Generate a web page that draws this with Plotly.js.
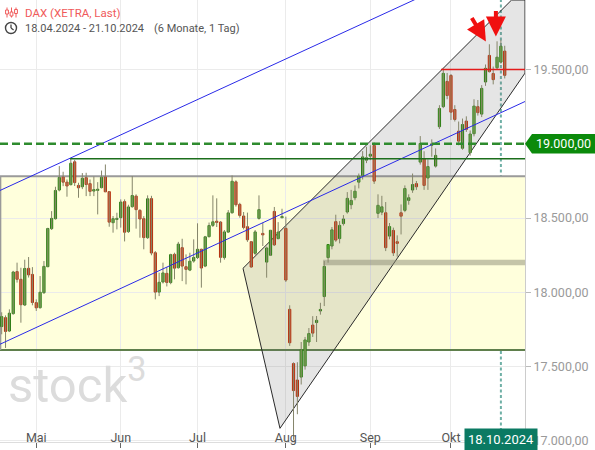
<!DOCTYPE html>
<html><head><meta charset="utf-8">
<script src="https://cdn.plot.ly/plotly-3.0.1.min.js"></script>
<style>html,body{margin:0;padding:0;background:#fff;}#chart{width:595px;height:450px;}</style>
</head><body><div id="chart"></div>
<script>
// ---------------- DATA ----------------
const dates = [
'2024-04-18','2024-04-19','2024-04-22','2024-04-23','2024-04-24','2024-04-25','2024-04-26','2024-04-29','2024-04-30',
'2024-05-02','2024-05-03','2024-05-06','2024-05-07','2024-05-08','2024-05-09','2024-05-10','2024-05-13','2024-05-14','2024-05-15','2024-05-16','2024-05-17','2024-05-20','2024-05-21','2024-05-22','2024-05-23','2024-05-24','2024-05-27','2024-05-28','2024-05-29','2024-05-30','2024-05-31',
'2024-06-03','2024-06-04','2024-06-05','2024-06-06','2024-06-07','2024-06-10','2024-06-11','2024-06-12','2024-06-13','2024-06-14','2024-06-17','2024-06-18','2024-06-19','2024-06-20','2024-06-21','2024-06-24','2024-06-25','2024-06-26','2024-06-27','2024-06-28',
'2024-07-01','2024-07-02','2024-07-03','2024-07-04','2024-07-05','2024-07-08','2024-07-09','2024-07-10','2024-07-11','2024-07-12','2024-07-15','2024-07-16','2024-07-17','2024-07-18','2024-07-19','2024-07-22','2024-07-23','2024-07-24','2024-07-25','2024-07-26','2024-07-29','2024-07-30','2024-07-31',
'2024-08-01','2024-08-02','2024-08-05','2024-08-06','2024-08-07','2024-08-08','2024-08-09','2024-08-12','2024-08-13','2024-08-14','2024-08-15','2024-08-16','2024-08-19','2024-08-20','2024-08-21','2024-08-22','2024-08-23','2024-08-26','2024-08-27','2024-08-28','2024-08-29','2024-08-30',
'2024-09-02','2024-09-03','2024-09-04','2024-09-05','2024-09-06','2024-09-09','2024-09-10','2024-09-11','2024-09-12','2024-09-13','2024-09-16','2024-09-17','2024-09-18','2024-09-19','2024-09-20','2024-09-23','2024-09-24','2024-09-25','2024-09-26','2024-09-27','2024-09-30',
'2024-10-01','2024-10-02','2024-10-03','2024-10-04','2024-10-07','2024-10-08','2024-10-09','2024-10-10','2024-10-11','2024-10-14','2024-10-15','2024-10-16','2024-10-17','2024-10-18','2024-10-21'
];
const open = [
17770,17830,17740,17857,18140,18088,17915,18162,18121,
17931,17897,17998,18173,18429,18496,18689,18776,18742,18725,18879,18720,18711,18772,18732,18682,18688,18705,18776,18678,18469,18491,
18503,18611,18409,18577,18648,18552,18496,18368,18631,18267,18002,18070,18128,18066,18256,18166,18301,18173,18150,18211,
18234,18290,18177,18375,18451,18478,18473,18234,18406,18536,18744,18592,18514,18442,18341,18263,18498,18397,18204,18250,18545,18362,18503,
18431,17886,17521,17410,17430,17505,17666,17780,17797,17875,17972,18234,18312,18476,18362,18463,18541,18590,18637,18742,18787,18890,
18917,18989,18532,18540,18536,18379,18417,18341,18536,18552,18619,18689,18732,18877,18900,18770,18990,18850,19115,19250,19420,
19460,19231,19085,18970,19153,18940,19068,19250,19200,19416,19595,19473,19512,19550,19624
];
const high = [
17866,17845,17886,18145,18200,18166,18220,18238,18170,
17953,18110,18211,18435,18547,18711,18850,18812,18760,18900,18892,18738,18803,18805,18760,18780,18742,18820,18861,18682,18514,18536,
18626,18626,18590,18783,18660,18560,18513,18653,18650,18278,18133,18200,18170,18260,18267,18340,18361,18256,18267,18357,
18465,18294,18380,18470,18653,18633,18480,18420,18554,18787,18754,18603,18541,18537,18345,18420,18653,18469,18308,18420,18575,18473,18563,
18510,17913,17529,17530,17666,17700,17760,17840,17841,17930,18211,18290,18440,18523,18480,18520,18675,18690,18720,18800,18951,18980,
18990,19010,18660,18650,18608,18467,18436,18384,18592,18720,18660,18800,18750,19052,18950,18895,19030,18969,19260,19512,19477,
19470,19260,19150,19170,19185,19090,19300,19295,19395,19534,19670,19520,19690,19700,19660
];
const low = [
17718,17626,17733,17850,18066,17796,17908,18100,17913,
17875,17891,17990,18170,18420,18490,18680,18715,18644,18720,18716,18637,18695,18648,18648,18648,18525,18700,18675,18442,18402,18424,
18436,18343,18400,18570,18429,18368,18290,18360,18250,17953,17975,18060,18040,18055,18088,18160,18076,18054,18143,18200,
18225,18032,18170,18370,18440,18440,18200,18220,18402,18530,18577,18503,18424,18340,18166,18250,18490,18312,18099,18245,18312,18357,18500,
18070,17640,17008,17180,17380,17480,17640,17700,17666,17850,17908,18200,18290,18340,18330,18450,18530,18560,18620,18700,18760,18870,
18890,18730,18500,18520,18278,18357,18245,18240,18390,18540,18590,18670,18690,18860,18690,18690,18913,18840,19100,19240,19300,
19160,19150,18990,18960,19080,18920,19050,19190,19180,19390,19480,19400,19500,19540,19440
];
const close = [
17837,17737,17860,18137,18088,17917,18161,18118,17932,
17896,18001,18175,18430,18498,18686,18773,18742,18716,18869,18739,18704,18768,18726,18680,18692,18693,18774,18677,18473,18496,18498,
18608,18405,18575,18652,18557,18494,18369,18630,18265,18002,18068,18131,18067,18254,18163,18325,18177,18155,18210,18235,
18290,18164,18374,18450,18475,18472,18236,18407,18535,18748,18590,18518,18437,18354,18171,18407,18557,18387,18299,18418,18320,18406,18510,
18083,17661,17339,17300,17615,17680,17723,17726,17812,17885,18175,18322,18421,18352,18451,18494,18633,18619,18681,18782,18912,18906,
18930,18749,18586,18576,18301,18443,18266,18330,18513,18699,18637,18726,18711,19002,18720,18847,19000,18922,19238,19474,19325,
19213,19164,19018,19130,19097,19066,19254,19210,19373,19508,19486,19432,19583,19657,19461
];
const monthKeys = ['2024-05','2024-06','2024-07','2024-08','2024-09','2024-10'];
const monthLabels = ['Mai','Jun','Jul','Aug','Sep','Okt'];
const yTickValues = [17000,17500,18000,18500,19500];
const markerDate = '2024-10-18';
const markerLabel = '18.10.2024';
const levelLabelValue = 19000;
const levelLabelText = '19.000,00';
const titleText = 'DAX (XETRA, Last)';
const rangeText = '18.04.2024 - 21.10.2024';
const periodText = '(6 Monate, 1 Tag)';

// analyst drawings in (trading-day index, price)
const blueUpper = [[-0.44,18686],[107.6,19971]];
const blueLower = [[-0.44,17651],[136.3,19285]];
const chanUpper = [[62.84,18162],[132.9,19971]];
const chanLower = [[72.47,17085],[136.28,19476]];
const zoneBox = [17613,18781];
const level19000 = 19000;
const resistLine = [17.8,18900];
const redLine = [114.4,19500];
const grayBar = [83.7,18202];
const arrowTips = [[126.1,19689,-15,-25],[128.7,19722,0,-27]];

// ---------------- CHART ----------------
const n = close.length;
const X_RANGE = [-0.443,136.28];
const Y_RANGE = [16993,19968];
const idx = dates.map((d,i)=>i);
const tickvals = monthKeys.map(k=>dates.findIndex(d=>d.startsWith(k)));

const wx=[], wy=[];
for(let i=0;i<n;i++){ wx.push(i,i,null); wy.push(low[i],high[i],null); }
const MINH = 8;
const base=[], hgt=[], fill=[], edge=[];
for(let i=0;i<n;i++){
  const lo=Math.min(open[i],close[i]), hi=Math.max(open[i],close[i]);
  if(hi-lo<MINH){ const m=(hi+lo)/2; base.push(m-MINH/2); hgt.push(MINH); }
  else { base.push(lo); hgt.push(hi-lo); }
  const up = close[i]>=open[i];
  fill.push(up?'#5cb82e':'#ea5427');
  edge.push(up?'#2f7d17':'#b2300f');
}

const traces = [
  {type:'scatter',mode:'lines',x:wx,y:wy,line:{color:'#85856a',width:1},hoverinfo:'skip'},
  {type:'bar',x:idx,y:hgt,base:base,width:0.58,marker:{color:fill,line:{color:edge,width:1}},hoverinfo:'skip'}
];

const PW=525, PH=442;
const px=v=>v/PW, py=v=>1-v/PH;

function lineAt(seg,x){ const [a,b]=seg; return a[1]+(b[1]-a[1])*(x-a[0])/(b[0]-a[0]); }
function xAtY(seg,y){ const [a,b]=seg; return a[0]+(b[0]-a[0])*(y-a[1])/(b[1]-a[1]); }

const xR=X_RANGE[1], yT=Y_RANGE[1];
const polyPts = [chanUpper[0],[xAtY(chanUpper,yT),yT],[xR,yT],[xR,lineAt(chanLower,xR)],chanLower[0]];
const polyPath = 'M'+polyPts.map(p=>p[0]+','+p[1]).join(' L')+' Z';

const shapes = [
  {type:'rect',xref:'x',yref:'y',x0:X_RANGE[0],x1:X_RANGE[1],y0:zoneBox[0],y1:zoneBox[1],fillcolor:'#ffffdc',line:{width:0},layer:'below'},
  {type:'line',xref:'x',yref:'y',x0:X_RANGE[0],x1:X_RANGE[1],y0:zoneBox[1],y1:zoneBox[1],line:{color:'#9a9a9a',width:2},layer:'between'},
  {type:'line',xref:'x',yref:'y',x0:X_RANGE[0],x1:X_RANGE[1],y0:zoneBox[0],y1:zoneBox[0],line:{color:'#5f7f4c',width:2},layer:'between'},
  {type:'line',xref:'x',yref:'y',x0:X_RANGE[0]+0.15,x1:X_RANGE[0]+0.15,y0:zoneBox[0],y1:zoneBox[1],line:{color:'#9a9a9a',width:1.5},layer:'between'},
  {type:'path',xref:'x',yref:'y',path:polyPath,fillcolor:'rgba(110,110,110,0.18)',line:{color:'#2a2a2a',width:1},layer:'between'},
  {type:'line',xref:'x',yref:'y',x0:grayBar[0],x1:X_RANGE[1],y0:grayBar[1],y1:grayBar[1],line:{color:'rgba(140,140,115,0.5)',width:5.5},layer:'between'},
  {type:'line',xref:'x',yref:'paper',x0:dates.indexOf(markerDate),x1:dates.indexOf(markerDate),y0:0,y1:1,line:{color:'#6fb0a6',width:2,dash:'3px,2.5px'},layer:'between'},
  {type:'line',xref:'x',yref:'y',x0:blueUpper[0][0],y0:blueUpper[0][1],x1:blueUpper[1][0],y1:blueUpper[1][1],line:{color:'#2a2ae8',width:1},layer:'above'},
  {type:'line',xref:'x',yref:'y',x0:blueLower[0][0],y0:blueLower[0][1],x1:blueLower[1][0],y1:blueLower[1][1],line:{color:'#2a2ae8',width:1},layer:'above'},
  {type:'line',xref:'x',yref:'y',x0:resistLine[0],x1:X_RANGE[1],y0:resistLine[1],y1:resistLine[1],line:{color:'#1c6e1c',width:1.5},layer:'above'},
  {type:'line',xref:'x',yref:'y',x0:X_RANGE[0],x1:X_RANGE[1],y0:level19000,y1:level19000,line:{color:'#2e8b2e',width:2.5,dash:'8px,4px'},layer:'above'},
  {type:'line',xref:'x',yref:'y',x0:redLine[0],x1:X_RANGE[1],y0:redLine[1],y1:redLine[1],line:{color:'#e31b1b',width:1.5},layer:'above'},
  {type:'path',xref:'paper',yref:'y',path:`M1,${levelLabelValue} L${1+7/PW},${levelLabelValue+66} L${1+70/PW},${levelLabelValue+66} L${1+70/PW},${levelLabelValue-66} L${1+7/PW},${levelLabelValue-66} Z`,fillcolor:'#0b8a0b',line:{width:0}},
  {type:'line',xref:'paper',yref:'paper',x0:px(7),x1:px(7),y0:py(7.5),y1:py(17.5),line:{color:'#f05a5a',width:1}},
  {type:'rect',xref:'paper',yref:'paper',x0:px(5.6),x1:px(8.4),y0:py(10),y1:py(14),fillcolor:'#fff',line:{color:'#f05a5a',width:1}},
  {type:'line',xref:'paper',yref:'paper',x0:px(11.5),x1:px(11.5),y0:py(7.5),y1:py(17.5),line:{color:'#f05a5a',width:1}},
  {type:'rect',xref:'paper',yref:'paper',x0:px(10.1),x1:px(12.9),y0:py(12),y1:py(16),fillcolor:'#fff',line:{color:'#f05a5a',width:1}},
  {type:'line',xref:'paper',yref:'paper',x0:px(16),x1:px(16),y0:py(7.5),y1:py(17.5),line:{color:'#f05a5a',width:1}},
  {type:'rect',xref:'paper',yref:'paper',x0:px(14.6),x1:px(17.4),y0:py(9.5),y1:py(13.5),fillcolor:'#fff',line:{color:'#f05a5a',width:1}},
  {type:'circle',xref:'paper',yref:'paper',x0:px(5.5),x1:px(16.5),y0:py(22.5),y1:py(33.5),line:{color:'#444',width:1.4}},
  {type:'line',xref:'paper',yref:'paper',x0:px(11),x1:px(11),y0:py(28),y1:py(24.5),line:{color:'#444',width:1.3}},
  {type:'line',xref:'paper',yref:'paper',x0:px(11),x1:px(13.6),y0:py(28),y1:py(30),line:{color:'#444',width:1.3}}
];

const annotations = [
  {xref:'paper',yref:'paper',x:px(6),y:py(381),xanchor:'left',yanchor:'middle',text:'stock<sup>3</sup>',showarrow:false,font:{family:'Roboto, Arial, sans-serif',size:49,color:'#dcdcdc'}},
  {xref:'paper',yref:'paper',x:px(23),y:py(12.5),xanchor:'left',yanchor:'middle',text:titleText,showarrow:false,font:{size:11.5,color:'#f05a5a'}},
  {xref:'paper',yref:'paper',x:px(23),y:py(28),xanchor:'left',yanchor:'middle',text:rangeText,showarrow:false,font:{size:11,color:'#555'}},
  {xref:'paper',yref:'paper',x:px(152),y:py(28),xanchor:'left',yanchor:'middle',text:periodText,showarrow:false,font:{size:11,color:'#555'}},
  {xref:'paper',yref:'y',x:1+38.5/PW,y:levelLabelValue,xanchor:'center',yanchor:'middle',text:levelLabelText,showarrow:false,font:{size:12.5,color:'#fff'}},
  {xref:'x',yref:'paper',x:dates.indexOf(markerDate),y:py(439.5),xanchor:'center',yanchor:'middle',text:markerLabel,showarrow:false,bgcolor:'#0b7a63',borderpad:3,font:{size:13,color:'#fff'}}
];
arrowTips.forEach(a=>annotations.push({xref:'x',yref:'y',x:a[0],y:a[1],ax:a[2],ay:a[3],showarrow:true,arrowhead:2,arrowsize:1,arrowwidth:4,arrowcolor:'#f01010',text:'',standoff:0}));

const layout = {
  width:595,height:450,
  margin:{l:0,r:70,t:0,b:8,pad:0},
  paper_bgcolor:'#fff',plot_bgcolor:'#fff',
  separators:',.',
  showlegend:false,
  hovermode:false,
  font:{family:'Roboto, Arial, sans-serif'},
  xaxis:{type:'linear',range:X_RANGE,tickmode:'array',tickvals:tickvals,ticktext:monthLabels,ticklabelposition:'outside',ticklabelstandoff:-21,ticks:'outside',ticklen:5,tickcolor:'#666',tickfont:{size:12.5,color:'#555'},showline:true,linecolor:'#ddd',showgrid:true,gridcolor:'#ebebeb',zeroline:false},
  yaxis:{side:'right',range:Y_RANGE,tickmode:'array',tickvals:yTickValues,tickformat:',.2f',ticks:'outside',ticklen:5,tickcolor:'#bbb',tickfont:{size:12.5,color:'#9a9a9a'},showline:true,linecolor:'#ccc',showgrid:true,gridcolor:'#ebebeb',zeroline:false},
  shapes:shapes,
  annotations:annotations,
  bargap:0
};
Plotly.newPlot('chart',traces,layout,{staticPlot:true,displayModeBar:false});
</script></body></html>
